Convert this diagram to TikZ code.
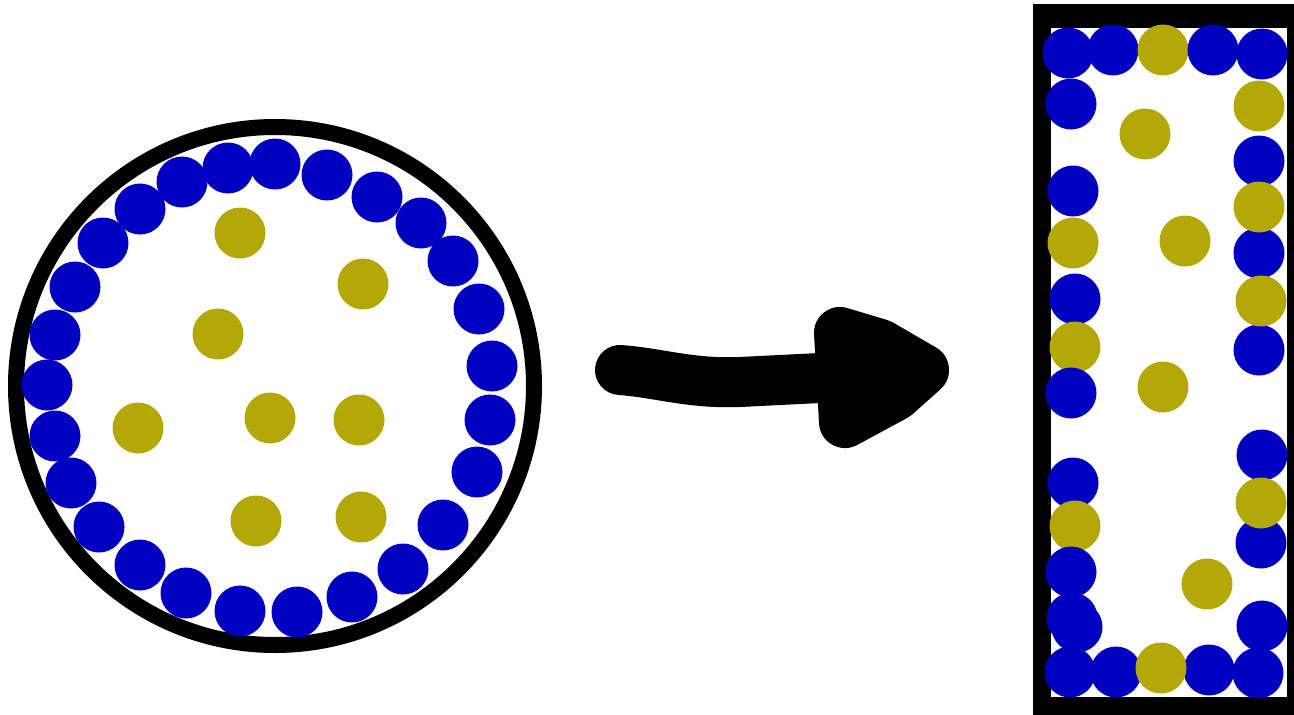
\documentclass[tikz,border=0pt]{standalone}
\definecolor{bl}{RGB}{0,0,192}
\definecolor{yl}{RGB}{179,168,8}
\tikzset{
  bb/.style={fill=bl},
  yb/.style={fill=yl},
}
\newcommand{\B}[2]{\fill[bb] (#1,#2) circle (25.5);}
\newcommand{\Y}[2]{\fill[yb] (#1,#2) circle (25.5);}
\begin{document}
\begin{tikzpicture}[x=1pt,y=-1pt]
\useasboundingbox (0,0) rectangle (1294,715);
\clip (0,0) rectangle (1294,715);
% circle container
\draw[line width=16pt] (275,386) circle (259);
\B{228}{168}\B{275}{164}\B{327}{175}\B{377}{197}\B{421}{223}\B{453}{261}
\B{479}{309}\B{492}{366}\B{490}{420}\B{477}{472}\B{443}{525}\B{403}{569}
\B{352}{597}\B{297}{612}\B{240}{611}\B{186}{593}\B{140}{565}\B{99}{527}
\B{71}{483}\B{55}{436}\B{47}{385}\B{55}{335}\B{75}{287}\B{103}{243}
\B{140}{209}\B{182}{182}
\Y{240}{233}\Y{363}{284}\Y{218}{334}\Y{138}{428}\Y{270}{418}\Y{359}{420}
\Y{256}{521}\Y{361}{517}
% arrow
\draw[line width=50pt,line cap=round,line join=round]
  (620,370) .. controls (660,373) and (690,384) .. (740,382) -- (900,374);
\filldraw[line width=52pt,line join=round,line cap=round]
  (840,333) -- (880,345) -- (923,370) -- (895,395) -- (845,422) -- cycle;
% rectangle container
\fill (1033,4) rectangle (1310,725);
\fill[white] (1051,28) rectangle (1287,697);
% top row
\B{1068}{53}\B{1113}{50}\Y{1163}{50}\B{1213}{50}\B{1262}{54}
% left column
\B{1071}{104}\B{1073}{191}\Y{1073}{243}\B{1075}{299}\Y{1075}{347}
\B{1071}{393}\B{1073}{483}\Y{1075}{526}\B{1071}{572}\B{1072}{618}\B{1077}{627}
% right column
\B{1259}{161}\B{1259}{253}\B{1259}{350}\B{1262}{455}\B{1261}{543}\B{1262}{626}
\Y{1259}{106}\Y{1259}{207}\Y{1261}{301}\Y{1261}{503}
% interior
\Y{1145}{134}\Y{1185}{241}\Y{1163}{387}\Y{1207}{584}
% bottom row
\B{1070}{672}\B{1116}{672}\B{1209}{670}\B{1258}{673}\Y{1161}{668}
\end{tikzpicture}
\end{document}
